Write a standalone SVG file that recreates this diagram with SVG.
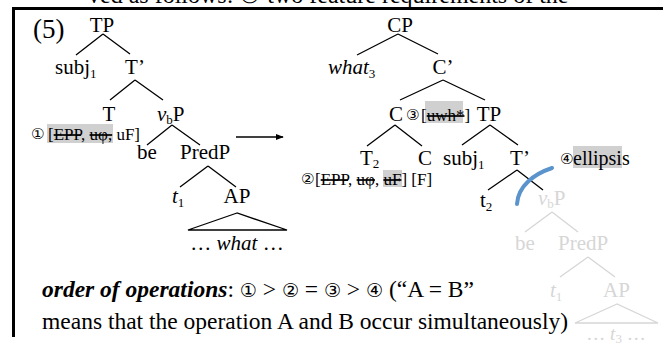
<svg xmlns="http://www.w3.org/2000/svg" width="663" height="347" viewBox="0 0 663 347">
  <style>
    text { font-family: "Liberation Serif", "Times New Roman", serif; font-size: 21px; fill: #000; }
    .faded text { fill: #d6d6d6; }
    .ann { font-size: 17px; }
    .circ { font-family: "DejaVu Sans", sans-serif; font-size: 15px; }
    .circ-big { font-family: "DejaVu Sans", sans-serif; font-size: 19px; }
    .sub { font-size: 13px; }
    .it { font-style: italic; }
    .strike { text-decoration: line-through; }
    .edge { stroke: #000; stroke-width: 1.3; fill: none; }
    .faded .edge { stroke: #d6d6d6; }
    .hl { fill: #d0d0d0; }
    .bottom { font-size: 23.5px; }
    .page { font-size: 24px; }
    .num { font-size: 27px; }
    .trace3 { font-size: 19px; }
    .ell { font-size: 20px; }
  </style>
  <defs>
    <marker id="arrowhead" viewBox="0 0 10 10" refX="9" refY="5" markerWidth="8" markerHeight="8" markerUnits="userSpaceOnUse" orient="auto">
      <path d="M0,1 L10,5 L0,9 Z" fill="#000"/>
    </marker>
  </defs>

  <rect width="663" height="347" fill="#fff"/>

  <!-- running text above the example, cut by the page edge -->
  <text class="page" x="88" y="3">ved as follows: ① two feature requirements of the</text>

  <!-- example frame -->
  <g id="frame" fill="#000">
    <rect x="12" y="7" width="651" height="3"/>
    <rect x="12" y="7" width="3" height="330"/>
  </g>

  <text class="num" x="33" y="38">(5)</text>

  <!-- highlights -->
  <g id="highlights">
    <rect class="hl" x="47" y="124" width="66" height="19"/>
    <rect class="hl" x="425" y="101" width="38" height="22"/>
    <rect class="hl" x="383" y="170" width="19" height="17"/>
    <rect class="hl" x="573" y="146" width="49" height="22"/>
  </g>

  <!-- connectors -->
  <g id="connectors">
    <path class="edge" d="M103,34 L76,55 M103,34 L130,54"/>
    <path class="edge" d="M135,80 L110,100 M135,80 L163,100"/>
    <path class="edge" d="M172,125 L147,145 M172,125 L200,145"/>
    <path class="edge" d="M208,166 L180,187 M208,166 L236,187"/>
    <path class="edge" d="M237,213 L188,230 L287,230 Z"/>
    <path class="edge" d="M398,34 L357,55 M398,34 L438,54"/>
    <path class="edge" d="M443,80 L400,100 M443,80 L485,100"/>
    <path class="edge" d="M395,125 L367,146 M395,125 L422,146"/>
    <path class="edge" d="M490,125 L462,145 M490,125 L518,145"/>
    <path class="edge" d="M517,170 L488,190 M517,170 L543,190"/>
    <line class="edge" x1="236" y1="137" x2="283" y2="137" marker-end="url(#arrowhead)"/>
    <g class="faded">
      <path class="edge" d="M552,212 L525,232 M552,212 L578,232"/>
      <path class="edge" d="M588,257 L560,277 M588,257 L615,277"/>
      <path class="edge" d="M617,304 L575,323 L658,323 Z"/>
    </g>
    <path id="ellipsis-cut" d="M552,168 C534,174 518,186 517,204" stroke="#5b94cc" stroke-width="4" fill="none" stroke-linecap="round"/>
  </g>

  <!-- left tree -->
  <g id="tp-left"><text x="102" y="32" text-anchor="middle">TP</text></g>
  <g id="subj-left"><text x="55" y="74">subj<tspan class="sub" dy="4">1</tspan></text></g>
  <g id="tbar-left"><text x="135" y="74" text-anchor="middle">T’</text></g>
  <g id="t-left"><text x="109" y="121" text-anchor="middle">T</text></g>
  <g id="vbp-left"><text x="157" y="121"><tspan class="it">v</tspan><tspan class="sub" dy="3">b</tspan><tspan dy="-3">P</tspan></text></g>
  <g id="feat-1">
    <text class="circ" x="31" y="139">①</text>
    <text class="ann" x="48" y="140">[<tspan class="strike">EPP</tspan>, <tspan class="strike">uφ,</tspan> uF]</text>
  </g>
  <g id="be-left"><text x="137" y="159">be</text></g>
  <g id="predp-left"><text x="180" y="159">PredP</text></g>
  <g id="t1-left"><text x="172" y="203"><tspan class="it">t</tspan><tspan class="sub" dy="4">1</tspan></text></g>
  <g id="ap-left"><text x="237" y="203" text-anchor="middle">AP</text></g>
  <g id="what-left"><text x="237" y="250" text-anchor="middle">… <tspan class="it">what</tspan> …</text></g>

  <!-- right tree -->
  <g id="cp"><text x="400" y="32" text-anchor="middle">CP</text></g>
  <g id="what3"><text x="328" y="74"><tspan class="it">what</tspan><tspan class="sub" dy="4">3</tspan></text></g>
  <g id="cbar"><text x="443" y="74" text-anchor="middle">C’</text></g>
  <g id="c-head"><text x="396" y="121" text-anchor="middle">C</text></g>
  <g id="feat-3">
    <text class="circ" x="406" y="120">③</text>
    <text class="ann" x="421" y="121">[<tspan class="strike">uwh*</tspan>]</text>
  </g>
  <g id="tp-right"><text x="489" y="121" text-anchor="middle">TP</text></g>
  <g id="t2-head"><text x="360" y="165">T<tspan class="sub" dy="3">2</tspan></text></g>
  <g id="c-low"><text x="418" y="165">C</text></g>
  <g id="subj-right"><text x="443" y="165">subj<tspan class="sub" dy="4">1</tspan></text></g>
  <g id="tbar-right"><text x="520" y="165" text-anchor="middle">T’</text></g>
  <g id="feat-4">
    <text class="circ" x="560" y="164">④</text>
    <text class="ell" x="573" y="165">ellipsis</text>
  </g>
  <g id="feat-2">
    <text class="circ" x="301" y="184">②</text>
    <text class="ann" x="315" y="185">[<tspan class="strike">EPP</tspan>, <tspan class="strike">uφ</tspan>, <tspan class="strike">uF</tspan>]  [F]</text>
  </g>
  <g id="t2-trace"><text x="480" y="207">t<tspan class="sub" dy="4">2</tspan></text></g>

  <!-- elided part -->
  <g id="elided" class="faded">
    <text x="538" y="205"><tspan class="it">v</tspan><tspan class="sub" dy="3">b</tspan><tspan dy="-3">P</tspan></text>
    <text x="515" y="250">be</text>
    <text x="558" y="250">PredP</text>
    <text x="550" y="297"><tspan class="it">t</tspan><tspan class="sub" dy="4">1</tspan></text>
    <text x="603" y="297">AP</text>
    <text class="trace3" x="616" y="340" text-anchor="middle">… <tspan class="it">t</tspan><tspan class="sub" dy="3">3</tspan><tspan dy="-3"> …</tspan></text>
  </g>

  <!-- caption -->
  <g id="caption">
    <text class="bottom" x="42" y="297"><tspan font-weight="bold" font-style="italic">order of operations</tspan>: <tspan class="circ-big">①</tspan> &gt; <tspan class="circ-big">②</tspan> = <tspan class="circ-big">③</tspan> &gt; <tspan class="circ-big">④</tspan> (“A = B”</text>
    <text class="bottom" x="42" y="329">means that the operation A and B occur simultaneously)</text>
  </g>
</svg>
